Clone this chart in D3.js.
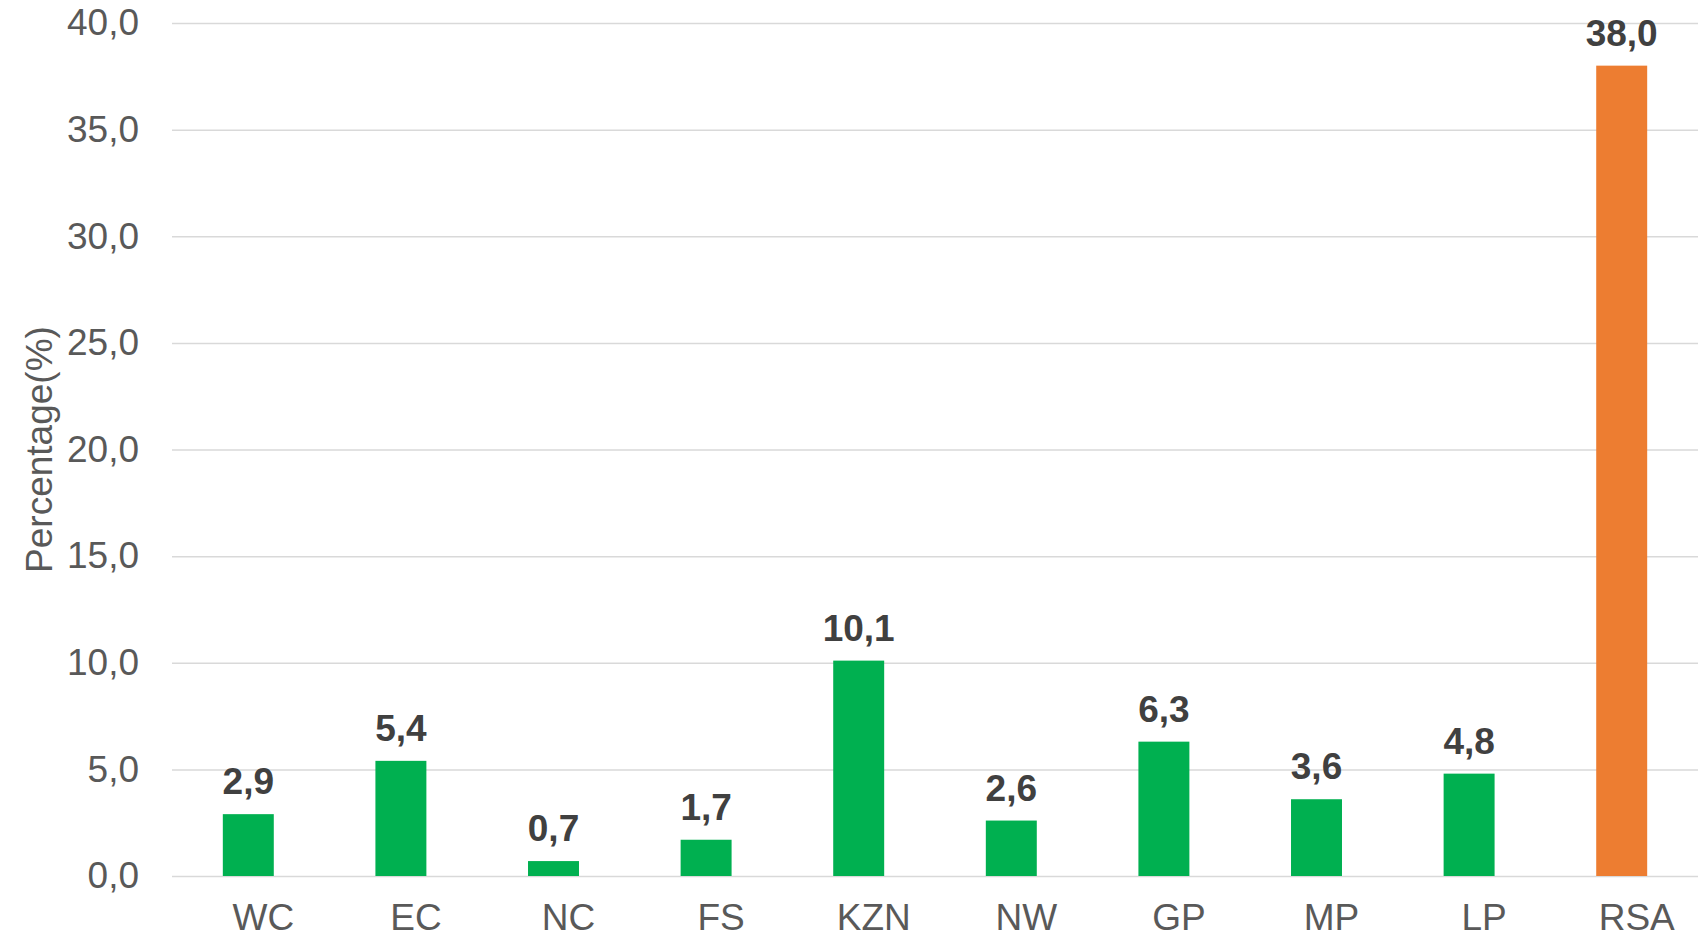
<!DOCTYPE html>
<html>
<head>
<meta charset="utf-8">
<script src="https://cdn.jsdelivr.net/npm/d3@7"></script>
<style>
    body { margin: 0; background: #fff; }
    text { font-family: "Liberation Sans", Arial, sans-serif; }
</style>
</head>
<body>
<div id="chart"></div>
<script>
var provinces = ['WC', 'EC', 'NC', 'FS', 'KZN', 'NW', 'GP', 'MP', 'LP', 'RSA'];
var percentages = [2.9, 5.4, 0.7, 1.7, 10.1, 2.6, 6.3, 3.6, 4.8, 38.0];
var yTicks = [0, 5, 10, 15, 20, 25, 30, 35, 40];

var width = 1706, height = 938;
var margin = {top: 23, right: 8, bottom: 62, left: 172};

var svg = d3.select('#chart')
    .append('svg')
    .attr('width', width)
    .attr('height', height);

var x = d3.scaleBand()
    .domain(provinces)
    .range([margin.left, width - margin.right])
    .paddingInner(0.666)
    .paddingOuter(0.333);

var y = d3.scaleLinear()
    .domain([0, 40])
    .range([height - margin.bottom, margin.top]);

var comma = function(v) { return d3.format('.1f')(v).replace('.', ','); };

// gridlines + y labels
var yAxis = svg.append('g')
    .attr('transform', 'translate(' + margin.left + ',0)')
    .call(d3.axisLeft(y)
        .tickValues(yTicks)
        .tickSize(-(width - margin.left - margin.right))
        .tickPadding(33)
        .tickFormat(comma));
yAxis.select('.domain').remove();
yAxis.selectAll('line')
    .attr('stroke', '#d9d9d9')
    .attr('stroke-width', 1.5);
yAxis.selectAll('text')
    .attr('fill', '#595959')
    .style('font-size', '37px');

// bars
svg.selectAll('rect.bar')
    .data(percentages)
    .enter()
    .append('rect')
    .attr('class', 'bar')
    .attr('x', function(d, i) { return x(provinces[i]); })
    .attr('width', x.bandwidth())
    .attr('y', function(d) { return y(d); })
    .attr('height', function(d) { return y(0) - y(d); })
    .attr('fill', function(d, i) { return provinces[i] === 'RSA' ? '#ed7d31' : '#00b050'; });

// value labels
svg.selectAll('text.val')
    .data(percentages)
    .enter()
    .append('text')
    .attr('class', 'val')
    .attr('x', function(d, i) { return x(provinces[i]) + x.bandwidth() / 2; })
    .attr('y', function(d) { return y(d) - 20; })
    .attr('text-anchor', 'middle')
    .attr('fill', '#404040')
    .style('font-size', '37px')
    .style('font-weight', 'bold')
    .text(comma);

// x labels (slightly right of the bars, as in the original)
var xAxis = svg.append('g')
    .attr('transform', 'translate(0,' + y(0) + ')')
    .call(d3.axisBottom(x).tickSize(0).tickPadding(28));
xAxis.select('.domain').remove();
xAxis.selectAll('text')
    .attr('dx', 15)
    .attr('fill', '#595959')
    .style('font-size', '37px');

svg.append('text')
    .text('Percentage(%)')
    .attr('transform', 'translate(52,' + (y(0) + y(40)) / 2 + ') rotate(-90)')
    .attr('text-anchor', 'middle')
    .attr('fill', '#595959')
    .style('font-size', '37px');
</script>
</body>
</html>
